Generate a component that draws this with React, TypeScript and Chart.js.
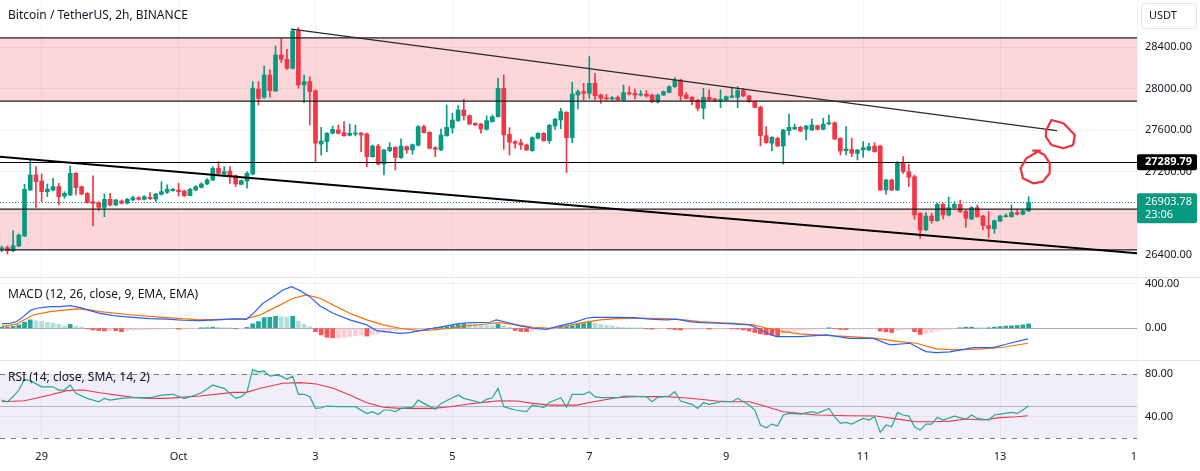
import React, { useEffect, useRef } from 'react';
import { Chart, registerables } from 'chart.js';

Chart.register(...registerables);

// ---------- DATA (2h candles, index 0 = Sep 28 10:00) ----------
const opens = [26456,26466,26437,26482,26578,27022,27167,27109,27006,27022,
27055,26964,26974,27183,27055,26990,26910,26900,26855,26932,
26878,26916,26894,26926,26948,26932,26952,26935,26981,27000,
27016,27022,27013,26968,27022,27048,27080,27119,27232,27177,
27206,27161,27077,27109,27177,27997,27917,28132,27978,28326,
28284,28197,28557,28036,28068,27981,27466,27489,27570,27602,
27576,27550,27563,27573,27563,27344,27447,27273,27402,27434,
27335,27441,27409,27454,27634,27579,27431,27409,27547,27621,
27692,27795,27740,27666,27659,27608,27682,27730,28004,27560,
27489,27479,27457,27402,27521,27570,27499,27640,27698,27772,
27527,27939,27972,27955,28052,27939,27913,27901,27917,27891,
27962,27955,27939,27949,27939,27872,27939,27965,28020,28084,
27939,27917,27891,27811,27917,27901,27885,27891,27917,27917,
27981,27930,27875,27820,27547,27473,27521,27447,27595,27611,
27627,27608,27602,27644,27608,27659,27672,27521,27402,27415,
27376,27409,27409,27447,27447,27022,27119,27022,27290,27199,
27151,26797,26636,26771,26726,26884,26781,26852,26884,26817,
26742,26852,26771,26678,26649,26723,26765,26765,26804,26788,
26820];

const closes = [26462,26437,26485,26588,27029,27167,27103,27006,27032,27055,
26958,26990,27183,27045,26984,26900,26894,26855,26932,26878,
26926,26894,26932,26948,26932,26958,26939,26984,27006,27029,
27029,27006,26968,27029,27055,27080,27119,27232,27183,27199,
27151,27080,27113,27183,28004,27907,28132,27981,28326,28284,
28197,28557,28036,28068,27972,27473,27495,27570,27608,27570,
27547,27570,27573,27553,27344,27447,27273,27409,27434,27338,
27447,27409,27460,27634,27576,27425,27415,27553,27627,27698,
27795,27740,27659,27650,27611,27692,27730,28004,27553,27483,
27473,27457,27409,27527,27570,27499,27647,27705,27779,27527,
27949,27972,27955,28052,27933,27907,27901,27913,27891,27962,
27949,27939,27949,27930,27875,27939,27972,28020,28084,27930,
27907,27885,27811,27917,27891,27882,27898,27923,27930,27981,
27930,27875,27820,27547,27479,27531,27447,27602,27627,27627,
27592,27640,27650,27608,27659,27672,27515,27399,27418,27376,
27409,27431,27441,27392,27022,27119,27022,27290,27199,27145,
26781,26636,26771,26726,26884,26781,26852,26884,26813,26749,
26852,26765,26678,26652,26726,26771,26771,26804,26788,26823,
26903.78];

const highs = [26482,26482,26630,26598,27077,27312,27248,27177,27080,27135,
27087,27006,27254,27190,27061,26997,27158,26910,26984,26990,
26932,26926,26942,26964,26958,26968,26997,26990,27103,27071,
27039,27087,27022,27039,27064,27093,27132,27248,27296,27248,
27248,27167,27119,27199,28068,28068,28219,28181,28412,28486,
28380,28567,28589,28132,28116,27988,27627,27576,27640,27650,
27682,27659,27650,27576,27573,27457,27463,27415,27479,27441,
27515,27447,27466,27644,27650,27585,27441,27611,27843,27762,
27836,27898,27746,27672,27666,27737,27746,28100,28132,27624,
27499,27511,27466,27537,27576,27576,27656,27714,27811,27779,
28062,27988,28052,28310,28149,27949,27946,27923,27930,28036,
28020,27997,27981,27981,27949,27949,27978,28029,28107,28091,
27962,27923,27898,28004,27988,27907,27988,27930,28004,28020,
28004,27936,27881,27833,27634,27537,27531,27608,27756,27659,
27637,27647,27708,27650,27714,27746,27679,27527,27634,27521,
27415,27489,27473,27479,27454,27125,27129,27296,27344,27270,
27167,26804,26804,26797,26894,26894,26952,26910,26926,26826,
26862,26878,26778,26813,26733,26778,26791,26878,26836,26829,
26958];

const lows = [26427,26405,26427,26475,26572,27016,26855,26910,26958,27013,
26878,26942,26968,26974,26974,26894,26675,26823,26765,26868,
26871,26887,26887,26919,26926,26926,26932,26910,26974,26990,
27010,26964,26958,26964,27016,27042,27074,27113,27177,27151,
27087,27055,27071,27039,27167,27843,27907,27917,27972,28252,
28187,28190,28004,27865,27650,27296,27360,27392,27563,27563,
27540,27544,27544,27392,27248,27338,27264,27167,27392,27215,
27328,27376,27367,27447,27570,27418,27344,27402,27540,27570,
27685,27698,27653,27644,27570,27602,27676,27724,27415,27360,
27425,27415,27402,27396,27515,27492,27473,27608,27614,27190,
27479,27804,27891,27907,27891,27859,27891,27891,27885,27885,
27939,27901,27930,27917,27865,27862,27933,27959,28013,27891,
27901,27843,27785,27708,27885,27875,27817,27885,27910,27817,
27923,27868,27814,27447,27473,27402,27441,27273,27553,27605,
27585,27505,27595,27602,27602,27653,27508,27360,27360,27344,
27312,27338,27402,27386,27016,26981,27016,27016,27183,27055,
26739,26556,26630,26701,26720,26742,26771,26845,26807,26662,
26736,26759,26636,26562,26604,26717,26759,26759,26781,26781,
26813];

const macdHist = [10,12,18,30,55,75,68,60,52,45,
35,22,35,20,10,-5,-15,-20,-24,-20,
-22,-30,-22,-18,-15,-12,-10,-8,-7,-5,
-4,-8,-6,-4,-2,2,5,10,8,6,
3,-3,-2,8,40,60,95,98,108,104,
100,108,65,35,15,-30,-60,-80,-85,-85,
-82,-75,-68,-62,-70,-55,-45,-38,-30,-22,
-15,-12,-8,-5,-3,0,3,8,15,25,
35,42,38,32,28,25,22,35,20,10,
-20,-28,-30,-22,-15,-10,-8,-5,10,15,
22,35,42,55,45,35,28,20,12,8,
4,2,1,-5,-8,-5,-4,-6,-12,-15,
-12,-10,-8,-6,-8,-7,-6,-5,-6,-8,
-15,-25,-38,-50,-58,-62,-68,-50,-35,-25,
-18,-15,-12,-8,-5,3,-5,-10,-12,-8,
-6,-5,-4,-3,-25,-32,-38,-20,-12,-10,
-30,-55,-45,-35,-25,-15,-10,-5,5,10,
10,5,2,3,10,15,20,22,25,30,
39];

const macdLine = [[0,39],[1.5,45],[2.6,60],[3.8,104],[5,158],[6.1,179],[8.5,194],[10.2,194],[12,203],[13.7,185],
[15.5,158],[17.2,134],[19.6,113],[23,98],[26,87],[28.9,81],[31.8,72],[34.7,69],[37.7,75],[40.6,84],
[42.9,80],[44.1,134],[45.8,224],[47.6,283],[49.3,343],[50.8,373],[52.3,337],[54,283],[55.8,200],[58.1,134],
[61,75],[64,30],[65.7,-21],[69.8,-45],[71.5,-39],[73.3,-21],[75.6,0],[78,21],[80.3,45],[82.7,51],
[85.6,54],[86.7,75],[88.5,54],[90.8,21],[93.2,0],[95.5,-9],[97.8,21],[100.2,51],[102.5,90],[103.7,98],
[107.8,98],[110.7,95],[113.6,81],[116.5,75],[118.3,81],[120.6,60],[122.4,51],[125.3,45],[128.2,39],[131.1,30],
[132.9,-9],[134.1,-45],[135.8,-75],[139.9,-75],[144.6,-60],[148.6,-90],[152.8,-90],[155.7,-149],[159.2,-134],[162,-209],
[163.8,-218],[166.2,-212],[170.3,-173],[173.8,-173],[176.7,-134],[179.9,-95]];

const signalLine = [[0,15],[2.6,39],[5.5,119],[8.5,149],[11.4,164],[13.1,173],[15.5,164],[17.2,149],[23,119],[28.9,95],
[34.7,75],[40.6,81],[42.9,87],[45.3,119],[48.2,194],[51.1,269],[53.4,298],[55.8,269],[58.1,209],[61,134],
[64,75],[66.9,30],[69.8,0],[73.3,-21],[75.6,-15],[78.6,0],[81.5,21],[84.4,36],[87.3,51],[90.3,30],
[93.2,9],[96.1,0],[99,21],[101.9,51],[104.9,75],[107.8,87],[110.7,90],[116.5,87],[119.5,75],[122.4,60],
[125.3,51],[128.2,45],[131.7,30],[134.1,0],[137,-30],[139.9,-51],[142.8,-60],[148.6,-75],[153.3,-90],[157.4,-119],
[160.3,-134],[163.8,-185],[167.3,-194],[172,-185],[175.5,-170],[179.9,-134]];

const rsiLine = [[0,55.6],[1,54],[2,58.8],[3,65],[4,75],[5,73.8],[7,68],[9,68],[10,65],[11,65],[12,69.7],[13,61.9],
[15,57.2],[17,54],[18,57.2],[19,55.6],[21,57.2],[23,58],[26,57.8],[28,60.3],[30,61],[32,57],[34,60.3],[35,62.5],
[37,69.7],[38,68],[39,66.6],[41,57.2],[42,58.8],[43,63.4],[44,84.4],[45,82],[46,83],[47,78],[48,79],[49,78],
[50,75],[51,78],[52,61],[53,61],[54,58.8],[55,47.8],[56,48.4],[57,50],[59,49.4],[61,49.4],[62,49.4],[64,43],
[65,44.7],[66,42],[67,46.3],[68,46.3],[69,44.7],[70,47.8],[72,48.8],[73,55.6],[74,52.5],[76,46.9],[77,52.5],
[80,60.3],[81,57.2],[84,53.1],[85,56.3],[86,57.8],[87,66.6],[88,49.4],[90,46.3],[92,44.7],[93,50.9],[95,48.8],
[96,53.4],[98,57.8],[99,48.8],[100,60.9],[102,60.9],[103,63.4],[104,58.8],[105,57.8],[108,57.8],[109,59.4],
[113,58.8],[114,54],[115,58.1],[117,59.4],[118,63.4],[119,54.7],[121,51.6],[122,47.8],[123,53.1],[124,51.6],
[126,54],[128,54],[129,57.2],[131,50.9],[132,46.3],[133,32.2],[134,29.7],[135,33.1],[136,31.3],[137,41.6],
[138,43.1],[140,42.5],[142,44.7],[143,43.1],[145,47.8],[146,40],[147,33.8],[148,34.7],[149,33.1],[151,38.4],
[152,36.9],[153,40],[154,25.3],[155,32.2],[156,30.6],[157,43.8],[158,41.6],[159,40.6],[160,30.6],[161,27.5],
[162,33.1],[163,33.1],[164,39.4],[165,36.9],[167,40.6],[169,37.5],[170,41.6],[171,38.4],[173,36.9],[174,41.6],
[175,42.5],[177,44.1],[178,43.1],[179,46.3],[180,50.3]];

const rsiSma = [[0,54],[4,55],[8.5,60.3],[11.4,64.4],[14.3,65],[17.2,62.5],[23,58.1],[26,57.2],[28.9,57.2],[34.7,59.4],
[40.6,62.8],[42.9,62.8],[45.3,66.6],[49.3,71.3],[52.3,71.9],[55.2,70.6],[58.1,66.6],[61,60.3],[64,53.1],[66.9,48.8],
[69.8,47.8],[75.6,47.8],[78.6,49.4],[81.5,51.6],[84.4,53.4],[87.3,55],[90.3,54.7],[93.2,52.5],[96.1,50.9],[100.8,50.9],
[103.7,54],[107.8,57.8],[110.7,58.8],[113.6,58.8],[116.5,58.8],[119.5,57.8],[122.4,56.3],[125.3,54.7],[128.2,54],[131.1,54],
[134.1,49.4],[137,44.7],[139.9,43.1],[142.8,41.6],[148.6,40.9],[153.3,40.6],[157.4,37.5],[160.3,35.3],[163.3,35.3],[166.2,35.9],
[169.1,37.8],[172,36.9],[174.9,39.1],[177.9,40],[179.9,40.9]];

const dayTickIdx = [7, 31, 55, 79, 103, 127, 151, 175, 199];
const dayTickLabels = ['29', 'Oct', '3', '5', '7', '9', '11', '13', '15'];
const priceTicks = [26400, 26800, 27200, 27600, 28000, 28400];
const macdTicks = [0, 400];
const rsiTicks = [40, 80];
const rsiBands = [80, 50, 20];

const zones = [[28490, 27880], [26838, 26445]];
const resistanceLevel = 27289.79;
const lastPrice = 26903.78;
const lastTimer = '23:06';
const upperTrend = [[50.8, 28574], [184.9, 27595]];
const lowerTrend = [[-0.3, 27344], [199.2, 26411]];
const circleA = [[183.1, 27602], [184.0, 27698], [186.1, 27666], [188.1, 27553], [187.8, 27457], [186.1, 27425], [184.0, 27457], [183.0, 27537], [183.1, 27602]];
const circleB = [[180.8, 27402], [182.0, 27402], [181.1, 27377], [179.6, 27328], [178.6, 27232], [179.0, 27135], [180.8, 27087], [182.5, 27103], [183.7, 27184], [183.7, 27280], [182.8, 27360], [182.0, 27382]];

const titleText = 'Bitcoin / TetherUS, 2h, BINANCE';
const macdTitle = 'MACD (12, 26, close, 9, EMA, EMA)';
const rsiTitle = 'RSI (14, close, SMA, 14, 2)';
const currencyText = 'USDT';

// ---------- STYLE ----------
const FONT = '"Noto Sans", "DejaVu Sans", sans-serif';
const UP = '#089981';
const DOWN = '#f23645';
const TEXT = '#131722';
const GRID = 'rgba(42,46,57,0.06)';

const overlayPlugin = {
  id: 'tvOverlay',
  beforeDatasetsDraw(chart: any) {
    const { ctx, chartArea: ca, scales } = chart;
    const sy = scales.y, sm = scales.yMacd, sr = scales.yRsi;
    ctx.save();
    const r80 = sr.getPixelForValue(rsiBands[0]);
    const r50 = sr.getPixelForValue(rsiBands[1]);
    const r20 = sr.getPixelForValue(rsiBands[2]);
    ctx.fillStyle = 'rgba(126,87,194,0.1)';
    ctx.fillRect(ca.left, r80, ca.right - ca.left, r20 - r80);
    ctx.strokeStyle = '#787b86';
    ctx.lineWidth = 1;
    ctx.setLineDash([5, 6]);
    [r80, r20].forEach((yy) => {
      ctx.beginPath();
      ctx.moveTo(ca.left, Math.round(yy) + 0.5);
      ctx.lineTo(ca.right, Math.round(yy) + 0.5);
      ctx.stroke();
    });
    ctx.setLineDash([]);
    ctx.strokeStyle = 'rgba(120,123,134,0.5)';
    ctx.beginPath();
    ctx.moveTo(ca.left, Math.round(r50) + 0.5);
    ctx.lineTo(ca.right, Math.round(r50) + 0.5);
    ctx.stroke();
    const z = sm.getPixelForValue(0);
    ctx.strokeStyle = 'rgba(120,123,134,0.6)';
    ctx.beginPath();
    ctx.moveTo(ca.left, Math.round(z) + 0.5);
    ctx.lineTo(ca.right, Math.round(z) + 0.5);
    ctx.stroke();
    ctx.beginPath();
    ctx.rect(ca.left, sy.top, ca.right - ca.left, sy.bottom - sy.top);
    ctx.clip();
    ctx.fillStyle = 'rgba(242,54,69,0.2)';
    zones.forEach(([a, b]) => {
      const ya = sy.getPixelForValue(a), yb = sy.getPixelForValue(b);
      ctx.fillRect(ca.left, ya, ca.right - ca.left, yb - ya);
    });
    const lp = sy.getPixelForValue(lastPrice);
    ctx.strokeStyle = UP;
    ctx.setLineDash([1, 2]);
    ctx.beginPath();
    ctx.moveTo(ca.left, Math.round(lp) + 0.5);
    ctx.lineTo(ca.right, Math.round(lp) + 0.5);
    ctx.stroke();
    ctx.restore();
  },
  afterDatasetsDraw(chart: any) {
    const { ctx, chartArea: ca, scales } = chart;
    const sx = scales.x, sy = scales.y;
    ctx.save();
    ctx.beginPath();
    ctx.rect(ca.left, sy.top, ca.right - ca.left, sy.bottom - sy.top);
    ctx.clip();
    ctx.strokeStyle = '#1e1e1e';
    ctx.lineWidth = 1.3;
    zones.forEach(([a, b]) => {
      [a, b].forEach((v) => {
        const yy = sy.getPixelForValue(v);
        ctx.beginPath();
        ctx.moveTo(ca.left, yy);
        ctx.lineTo(ca.right, yy);
        ctx.stroke();
      });
    });
    ctx.lineWidth = 1;
    ctx.strokeStyle = '#000';
    const yr = sy.getPixelForValue(resistanceLevel);
    ctx.beginPath();
    ctx.moveTo(ca.left, Math.round(yr) + 0.5);
    ctx.lineTo(ca.right, Math.round(yr) + 0.5);
    ctx.stroke();
    const poly = (pts: number[][], color: string, w: number) => {
      ctx.strokeStyle = color;
      ctx.lineWidth = w;
      ctx.lineJoin = 'round';
      ctx.lineCap = 'round';
      ctx.beginPath();
      pts.forEach(([i, p], k) => {
        const X = sx.getPixelForValue(i), Y = sy.getPixelForValue(p);
        if (k === 0) ctx.moveTo(X, Y); else ctx.lineTo(X, Y);
      });
      ctx.stroke();
    };
    poly(upperTrend, '#2a2a2a', 1.2);
    poly(lowerTrend, '#000', 2);
    poly(circleA, '#f0303c', 2.2);
    poly(circleB, '#f0303c', 2.2);
    ctx.restore();
  },
  afterDraw(chart: any) {
    const { ctx, chartArea: ca, scales, width, height } = chart;
    const sy = scales.y, sm = scales.yMacd;
    ctx.save();
    ctx.fillStyle = '#fff';
    ctx.fillRect(ca.right, ca.bottom, width - ca.right, height - ca.bottom);
    ctx.strokeStyle = '#e0e3eb';
    ctx.lineWidth = 1;
    [sy.bottom, sm.bottom].forEach((yy: number) => {
      ctx.beginPath();
      ctx.moveTo(0, Math.round(yy) - 0.5);
      ctx.lineTo(width, Math.round(yy) - 0.5);
      ctx.stroke();
    });
    ctx.fillStyle = TEXT;
    ctx.font = `12px ${FONT}`;
    ctx.textAlign = 'left';
    ctx.textBaseline = 'middle';
    ctx.fillText(titleText, 8, 16);
    ctx.fillText(macdTitle, 8, sy.bottom + 17);
    ctx.fillText(rsiTitle, 8, sm.bottom + 17);
    ctx.strokeStyle = '#e0e3eb';
    ctx.beginPath();
    (ctx as any).roundRect(1141.5, 3.5, 55, 25, 4);
    ctx.stroke();
    ctx.font = `11px ${FONT}`;
    ctx.fillText(currencyText, 1149, 16);
    const yr = sy.getPixelForValue(resistanceLevel);
    ctx.fillStyle = '#000';
    ctx.beginPath();
    (ctx as any).roundRect(ca.right, yr - 8, 60, 16, 2);
    ctx.fill();
    ctx.fillStyle = '#fff';
    ctx.font = `bold 11px ${FONT}`;
    ctx.fillText(resistanceLevel.toFixed(2), ca.right + 8, yr);
    const lp = sy.getPixelForValue(lastPrice);
    ctx.fillStyle = UP;
    ctx.beginPath();
    (ctx as any).roundRect(ca.right, lp - 9, 60, 30, 2);
    ctx.fill();
    ctx.fillStyle = '#fff';
    ctx.font = `11px ${FONT}`;
    ctx.fillText(lastPrice.toFixed(2), ca.right + 8, lp);
    ctx.fillText(lastTimer, ca.right + 8, lp + 13);
    ctx.restore();
  },
};

const idx = closes.map((_, i) => i);
const candleColors = closes.map((c, i) => (c >= opens[i] ? UP : DOWN));
const histColors = macdHist.map((v, i) => {
  const p = i > 0 ? macdHist[i - 1] : 0;
  if (v >= 0) return v >= p ? '#26a69a' : '#b2dfdb';
  return v < p ? '#ff5252' : '#ffcdd2';
});
const toXY = (pts: number[][]) => pts.map(([x, y]) => ({ x, y }));

const tickFont = { family: FONT, size: 11 };
const yAxis = (weight: number, min: number, max: number, ticks: number[]) => ({
  type: 'linear',
  position: 'right',
  stack: 'panes',
  stackWeight: weight,
  min,
  max,
  grid: { color: GRID, drawTicks: false },
  border: { display: false },
  ticks: { padding: 8, color: TEXT, font: tickFont, callback: (v: any) => Number(v).toFixed(2) },
  afterBuildTicks: (s: any) => { s.ticks = ticks.map((v) => ({ value: v })); },
  afterFit: (s: any) => { s.width = 63; s.paddingTop = 0; s.paddingBottom = 0; s.paddingLeft = 0; s.paddingRight = 0; },
});

export default function App() {
  const ref = useRef<HTMLCanvasElement>(null);
  useEffect(() => {
    document.body.style.margin = '0';
    const chart = new Chart(ref.current as HTMLCanvasElement, {
      type: 'bar',
      data: {
        datasets: [
          { type: 'bar', label: 'wick', data: idx.map((i) => ({ x: i, y: [lows[i], highs[i]] })), backgroundColor: candleColors, barThickness: 1, grouped: false, yAxisID: 'y', order: 3 } as any,
          { type: 'bar', label: 'body', data: idx.map((i) => ({ x: i, y: [opens[i], closes[i]] })), backgroundColor: candleColors, barThickness: 4, minBarLength: 1, grouped: false, yAxisID: 'y', order: 2 } as any,
          { type: 'bar', label: 'hist', data: idx.map((i) => ({ x: i, y: macdHist[i] })), backgroundColor: histColors, barThickness: 4, grouped: false, yAxisID: 'yMacd', order: 4 } as any,
          { type: 'line', label: 'macd', data: toXY(macdLine), borderColor: '#2962ff', borderWidth: 1.2, pointRadius: 0, yAxisID: 'yMacd', order: 1 } as any,
          { type: 'line', label: 'signal', data: toXY(signalLine), borderColor: '#ff6d00', borderWidth: 1.2, pointRadius: 0, yAxisID: 'yMacd', order: 1 } as any,
          { type: 'line', label: 'rsi', data: toXY(rsiLine), borderColor: '#22ab94', borderWidth: 1.2, pointRadius: 0, yAxisID: 'yRsi', order: 1,
            fill: { target: { value: rsiBands[0] }, above: 'rgba(8,153,129,0.25)', below: 'rgba(0,0,0,0)' } } as any,
          { type: 'line', label: 'rsiSma', data: toXY(rsiSma), borderColor: '#f23645', borderWidth: 1.1, pointRadius: 0, yAxisID: 'yRsi', order: 1 } as any,
        ],
      },
      options: {
        responsive: false,
        animation: false,
        events: [],
        layout: { padding: 0 },
        plugins: { legend: { display: false }, tooltip: { enabled: false } },
        scales: {
          x: {
            type: 'linear',
            min: -0.3,
            max: 199,
            offset: false,
            position: 'bottom',
            grid: { color: GRID, drawTicks: false, offset: false },
            border: { display: false },
            ticks: {
              autoSkip: false,
              maxRotation: 0,
              padding: 8,
              color: TEXT,
              font: tickFont,
              callback: (v: any) => {
                const k = dayTickIdx.indexOf(Number(v));
                return k >= 0 ? dayTickLabels[k] : '';
              },
            },
            afterBuildTicks: (s: any) => { s.ticks = dayTickIdx.map((v) => ({ value: v })); },
            afterFit: (s: any) => { s.height = 29; s.paddingLeft = 0; s.paddingRight = 0; s.paddingTop = 0; s.paddingBottom = 0; },
          },
          y: yAxis(278, 26173, 28856, priceTicks),
          yMacd: yAxis(83, -293, 450, macdTicks),
          yRsi: yAxis(81, 16.3, 92.2, rsiTicks),
        } as any,
      } as any,
      plugins: [overlayPlugin],
    });
    return () => chart.destroy();
  }, []);
  return (
    <div style={{ width: 1200, height: 471, background: '#fff' }}>
      <canvas ref={ref} width={1200} height={471} style={{ display: 'block', width: 1200, height: 471 }} />
    </div>
  );
}
